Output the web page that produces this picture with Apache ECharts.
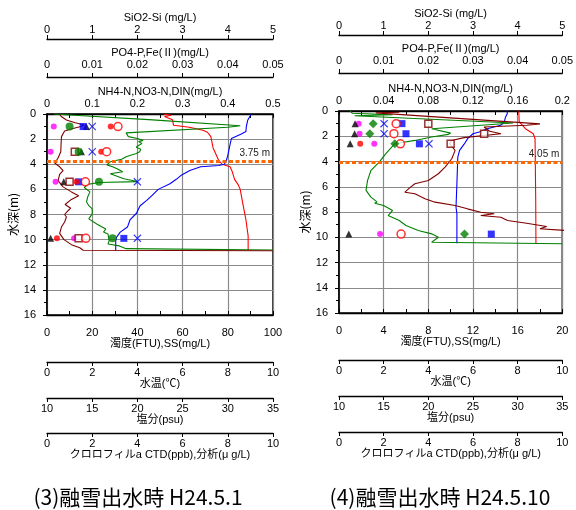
<!DOCTYPE html>
<html><head><meta charset="utf-8">
<script src="https://cdn.jsdelivr.net/npm/echarts@6/dist/echarts.min.js"></script>
<style>html,body{margin:0;padding:0;background:#fff}#c{width:576px;height:510px}</style>
</head><body><div id="c"></div>
<script>
// ---------- Panel (3) 融雪出水時 H24.5.1 : profiles as [depth, value] ----------
const L_temp = [[0,5.15],[0.1,5.5],[0.2,5.2],[0.45,5.55],[0.9,5.6],[1.05,6.3],[1.3,6.9],[1.45,7.1],[1.8,7.25],[2.7,7.35],[3.3,7.5],[3.7,7.6],[4.0,7.75],[4.2,8.1],[4.6,8.2],[5.2,8.3],[5.6,8.45],[6.0,8.55],[7.0,8.65],[8.4,8.8],[9.7,8.9],[10.85,8.9]];
const L_sal = [[0,32.6],[0.1,32.4],[0.5,32.2],[1.0,32.05],[1.4,32.0],[1.6,31.5],[1.95,30.4],[2.1,30.5],[2.6,30.2],[3.3,30.0],[3.8,29.8],[4.0,29.6],[4.1,29.0],[4.2,27.0],[4.5,25.8],[4.9,24.8],[5.2,24.3],[5.55,23.6],[6.0,22.3],[6.5,21.6],[6.9,21.0],[7.3,20.3],[7.9,19.9],[8.4,19.2],[9.0,18.9],[9.4,18.1],[9.8,17.7],[10.1,17.6],[10.85,17.6]];
const L_chlCTD = [[0,0.3],[0.1,1.2],[0.45,4.5],[0.93,8.55],[1.05,8.0],[1.5,3.5],[1.8,3.6],[1.95,4.0],[2.1,4.25],[2.2,4.05],[2.35,4.2],[2.5,4.05],[2.65,3.95],[2.8,4.15],[3.0,4.1],[3.15,3.95],[3.4,3.5],[3.6,3.3],[3.8,2.8],[4.05,2.65],[4.2,2.9],[4.35,3.1],[4.6,3.35],[4.75,2.8],[4.9,2.85],[5.15,3.4],[5.38,4.0],[5.45,2.3],[5.6,1.8],[5.85,1.65],[6.2,1.9],[6.6,1.8],[7.0,1.75],[7.3,1.85],[7.55,2.0],[7.95,2.0],[8.35,1.85],[8.75,2.2],[8.9,2.25],[9.15,2.6],[9.4,2.5],[9.55,2.7],[10.1,2.75],[10.35,2.7],[10.5,3.2],[10.72,3.5],[10.83,10]];
const L_turb = [[0,5.5],[0.2,6.3],[0.48,8.6],[0.7,12.5],[0.88,16.5],[1.0,15.0],[1.15,11.5],[1.35,7.8],[1.8,6.4],[2.5,6.2],[3.0,6.1],[3.5,4.9],[3.9,3.4],[4.2,5.6],[4.5,7.1],[4.8,5.6],[5.3,4.9],[5.8,7.1],[6.2,10.8],[6.5,14.0],[6.8,10.8],[7.2,8.0],[7.5,10.5],[7.7,9.3],[8.0,7.8],[8.2,8.6],[8.6,7.8],[9.0,6.4],[9.5,5.6],[10.0,7.5],[10.4,10.8],[10.65,14.5],[10.85,16.0],[10.88,100]];
// sampled (analysis) values, panel (3)
const L_sampleDepth = [1.0, 3.0, 5.4, 9.9];
const L_po4 = [0.0015, 0.0008, 0.0019, 0.006];
const L_fe = [0.0087, 0.0076, 0.0037, 0.0008];
const L_si = [0.8, null, 0.7, 1.7];
const L_no3 = [0.1, 0.1, 0.2, 0.2];
const L_nh4 = [0.141, 0.12, 0.065, 0.022];
const L_din = [0.157, 0.132, 0.085, 0.086];
const L_ss = [null, 12.3, 10.0, 14.0];
const L_chla = [1.0, 1.4, 2.3, 2.9];
const L_refDepth = 3.75;

// ---------- Panel (4) 融雪出水時 H24.5.10 ----------
const R_temp = [[0,8.05],[0.87,8.07],[1.1,8.2],[1.4,8.35],[1.8,8.7],[2.2,8.78],[7.1,8.81],[10.52,8.82]];
const R_sal = [[0,28.8],[0.1,28.75],[0.2,28.85],[0.47,28.65],[0.87,28.5],[1.13,28.1],[1.4,26.6],[1.66,25.7],[1.8,25.0],[2.19,24.4],[2.59,24.05],[3.12,23.5],[3.65,23.3],[5.76,23.2],[7.62,23.1],[8.15,23.2],[10.47,23.2]];
const R_chlCTD = [[0,0.5],[0.18,0.6],[0.3,2.4],[0.38,0.7],[0.95,7.8],[1.4,4.15],[1.75,5.0],[1.85,4.9],[2.06,4.15],[2.33,3.4],[2.59,2.5],[3.38,2.1],[4.05,1.8],[4.71,1.43],[5.5,1.28],[6.29,1.21],[6.82,1.43],[7.2,1.7],[7.3,1.6],[7.48,2.0],[7.88,2.4],[8.28,2.2],[8.67,2.7],[9.07,3.0],[9.47,3.55],[9.73,4.15],[10.0,4.45],[10.4,4.15],[10.52,10]];
const R_turb = [[0.1,5.4],[0.15,3.3],[0.3,3.4],[1.02,18.0],[1.13,16.8],[1.27,13.0],[1.6,13.5],[1.8,14.5],[1.93,14.6],[2.11,11.2],[2.33,10.1],[2.59,9.9],[3.12,10.4],[3.78,10.1],[4.44,9.5],[4.97,8.9],[5.5,8.0],[5.76,6.8],[6.03,6.4],[6.43,5.9],[6.56,6.8],[6.95,7.7],[7.22,8.6],[7.48,10.4],[7.75,11.5],[8.02,12.7],[8.14,13.9],[8.28,12.7],[8.41,14.5],[8.67,15.1],[8.89,16.8],[9.15,18.6],[9.33,18.0],[9.47,20.4]];
const R_sampleDepth = [1.0, 1.8, 2.6, 9.75];
const R_po4 = [0.0044, 0.0046, 0.0079, 0.0092];
const R_fe = [0.0036, 0.0035, 0.0025, 0.0022];
const R_si = [1.41, 1.5, 1.8, 3.41];
const R_no3 = [0.0404, 0.0404, 0.0806, null];
const R_nh4 = [null, null, 0.019, null];
const R_din = [0.0512, 0.0492, 0.055, 0.0556];
const R_ss = [8.0, 13.0, 10.0, null];
const R_chla = [1.53, 1.38, 2.5, 5.62];
const R_refDepth = 4.05;

// ---------- axis ranges / tick labels ----------
const depthAxis = {min: 0, max: 16, interval: 2};
const siAxis = {min: 0, max: 5, interval: 1};
const po4Axis = {min: 0, max: 0.05, interval: 0.01};
const tempAxis = {min: 0, max: 10, interval: 2};
const salAxis = {min: 10, max: 35, interval: 5};
const chlAxis = {min: 0, max: 10, interval: 2};
const L_turbAxis = {min: 0, max: 100, interval: 20};
const R_turbAxis = {min: 0, max: 20, interval: 4};
const L_nAxis = {min: 0, max: 0.5, interval: 0.1};
const R_nAxis = {min: 0, max: 0.2, interval: 0.04};
const titles = ['(3)融雪出水時 H24.5.1', '(4)融雪出水時 H24.5.10'];

// ---------- build ----------
const FONT = "'Liberation Sans', Arial, 'Noto Sans CJK JP', sans-serif";
const JFONT = "'Noto Sans CJK JP', sans-serif";
const K = '#000';
const XPATH = 'path://M1,0 L5,4 L9,0 L10,1 L6,5 L10,9 L9,10 L5,6 L1,10 L0,9 L4,5 L0,1 Z';

function ax(g, range, o) {
  return {
    gridIndex: g, type: 'value', min: range.min, max: range.max, interval: range.interval,
    nameLocation: 'middle', nameGap: o.nameGap,
    name: o.name, position: o.position, offset: o.offset || 0,
    nameTextStyle: {fontSize: 11, color: K, fontFamily: FONT},
    axisLine: {show: true, onZero: false, lineStyle: {color: K, width: 1.3}},
    axisTick: {show: true, inside: !!o.inside, length: 4, lineStyle: {color: K, width: 1}},
    minorTick: {show: !!o.minor, splitNumber: 2, length: 4, lineStyle: {color: K, width: 1}},
    axisLabel: {fontSize: 11, color: K, fontFamily: FONT, margin: o.margin},
    splitLine: {show: !!o.split, lineStyle: {color: '#8a8a8a', width: 1.2}}
  };
}

const panels = [
  {grid: {left: 47, top: 114, width: 226, height: 201}, turb: L_turbAxis, n: L_nAxis, top: [37, 75], bot: [47, 83, 118]},
  {grid: {left: 339, top: 111, width: 227, height: 202}, turb: R_turbAxis, n: R_nAxis, top: [38, 76], bot: [47, 83, 119]}
];

const grids = [], xAxes = [], yAxes = [];
panels.forEach((p, g) => {
  grids.push(Object.assign({show: true, borderColor: K, borderWidth: 1.5, backgroundColor: '#fff'}, p.grid));
  xAxes.push(ax(g, p.turb, {name: '濁度(FTU),SS(mg/L)', position: 'bottom', nameGap: 22, inside: true, minor: true, split: true, margin: 12}));
  xAxes.push(ax(g, p.n, {name: 'NH4-N,NO3-N,DIN(mg/L)', position: 'top', nameGap: 16, inside: true, minor: true, margin: 5}));
  xAxes.push(ax(g, po4Axis, {name: 'PO4-P,Fe(Ⅱ)(mg/L)', position: 'top', offset: p.top[0], nameGap: 16, margin: 7}));
  xAxes.push(ax(g, siAxis, {name: 'SiO2-Si (mg/L)', position: 'top', offset: p.top[1], nameGap: 15, margin: 4}));
  xAxes.push(ax(g, tempAxis, {name: '水温(℃)', position: 'bottom', offset: p.bot[0], nameGap: 15, margin: 5}));
  xAxes.push(ax(g, salAxis, {name: '塩分(psu)', position: 'bottom', offset: p.bot[1], nameGap: 14, margin: 5}));
  xAxes.push(ax(g, chlAxis, {name: 'クロロフィルa CTD(ppb),分析(μ g/L)', position: 'bottom', offset: p.bot[2], nameGap: 14, margin: 5}));
  yAxes.push({
    gridIndex: g, type: 'value', inverse: true, min: depthAxis.min, max: depthAxis.max, interval: depthAxis.interval,
    name: '水深(m)', nameLocation: 'middle', nameGap: 16,
    nameTextStyle: {fontSize: 12, color: K, fontFamily: JFONT},
    axisLine: {show: true, onZero: false, lineStyle: {color: K, width: 1.5}},
    axisTick: {show: true, length: 4, lineStyle: {color: K}},
    minorTick: {show: true, splitNumber: 2, length: 3, lineStyle: {color: K}},
    axisLabel: {fontSize: 11, color: K, fontFamily: FONT, margin: 11},
    splitLine: {show: true, lineStyle: {color: '#8a8a8a', width: 1.2}}
  });
});

const series = [];
function prof(name, d, g, k, color, ref) {
  const s = {type: 'line', name, data: d.map(r => [r[1], r[0]]), xAxisIndex: g * 7 + k, yAxisIndex: g,
    symbol: 'none', animation: false, lineStyle: {color, width: 1.1}, itemStyle: {color}, z: 3};
  if (ref !== undefined) {
    s.markLine = {silent: true, symbol: 'none', animation: false,
      lineStyle: {color: '#ff6600', type: [4, 2.5], width: 3},
      label: {show: true, position: 'insideEndTop', formatter: ref + ' m', color: '#222', fontSize: 10, fontFamily: FONT, distance: 3},
      data: [{yAxis: ref}]};
  }
  series.push(s);
}
function pts(name, depths, vals, g, k, symbol, size, color, empty) {
  const data = [];
  vals.forEach((v, i) => { if (v !== null) data.push([v, depths[i]]); });
  series.push({type: 'scatter', name, data, xAxisIndex: g * 7 + k, yAxisIndex: g, symbol, symbolSize: size,
    animation: false, z: 5,
    itemStyle: empty ? {color: '#fff', borderColor: color, borderWidth: 1.5} : {color}});
}

const P = [
  {temp: L_temp, sal: L_sal, chl: L_chlCTD, turb: L_turb, ref: L_refDepth, dep: L_sampleDepth,
   po4: L_po4, fe: L_fe, si: L_si, no3: L_no3, nh4: L_nh4, din: L_din, ss: L_ss, chla: L_chla, chlSym: 'circle', chlSize: 8},
  {temp: R_temp, sal: R_sal, chl: R_chlCTD, turb: R_turb, ref: R_refDepth, dep: R_sampleDepth,
   po4: R_po4, fe: R_fe, si: R_si, no3: R_no3, nh4: R_nh4, din: R_din, ss: R_ss, chla: R_chla, chlSym: 'diamond', chlSize: 9}
];
P.forEach((d, g) => {
  prof('水温', d.temp, g, 4, '#ff0000');
  prof('塩分', d.sal, g, 5, '#0000ff');
  prof('クロロフィルa CTD', d.chl, g, 6, '#008000');
  prof('濁度', d.turb, g, 0, '#800000', d.ref);
  pts('PO4-P', d.dep, d.po4, g, 2, 'circle', 6, '#ff00ff');
  pts('Fe(Ⅱ)', d.dep, d.fe, g, 2, 'triangle', 7, '#000000');
  pts('SS', d.dep, d.ss, g, 0, 'rect', 7, '#800000', true);
  pts('SiO2-Si', d.dep, d.si, g, 3, 'rect', 7, '#0000ff');
  pts('NH4-N', d.dep, d.nh4, g, 1, 'circle', 6, '#ff0000');
  pts('DIN', d.dep, d.din, g, 1, 'circle', 8, '#ff0000', true);
  pts('NO3-N', d.dep, d.no3, g, 1, XPATH, 8, '#0000ff');
  pts('クロロフィルa 分析', d.dep, d.chla, g, 6, d.chlSym, d.chlSize, '#008000');
});

const chart = echarts.init(document.getElementById('c'), null, {renderer: 'canvas'});
chart.setOption({
  animation: false,
  backgroundColor: '#fff',
  grid: grids, xAxis: xAxes, yAxis: yAxes, series,
  graphic: [
    {type: 'text', x: 138, y: 497, style: {text: titles[0], font: '21px ' + JFONT, fill: '#000', align: 'center', verticalAlign: 'middle'}},
    {type: 'text', x: 440, y: 497, style: {text: titles[1], font: '21px ' + JFONT, fill: '#000', align: 'center', verticalAlign: 'middle'}}
  ]
});
</script></body></html>
